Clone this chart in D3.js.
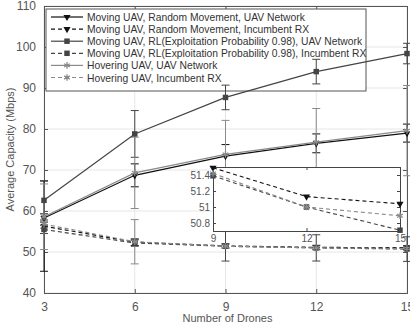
<!DOCTYPE html>
<html>
<head>
<meta charset="utf-8">
<script src="https://cdn.jsdelivr.net/npm/d3@7"></script>
<style>
  body { margin: 0; background: #fff; }
  text { font-family: "Liberation Sans", Arial, sans-serif; }
</style>
</head>
<body>
<div id="chart"></div>
<script>
// x values
var drones = [3, 6, 9, 12, 15];

// series values (Mbps)
var randUavNet = [58.3, 68.7, 73.4, 76.5, 79.0];
var randIncRx  = [56.3, 52.4, 51.49, 51.13, 51.04];
var rlUavNet   = [62.6, 78.8, 87.7, 94.0, 98.4];
var rlIncRx    = [55.5, 52.2, 51.39, 51.0, 50.71];
var hovUavNet  = [58.6, 69.3, 73.8, 76.8, 79.6];
var hovIncRx   = [56.8, 52.5, 51.42, 51.0, 50.89];

// error bar half widths
var randUavErr = [1, 2.8, 2.8, 2.3, 2.2];
var randIncErr = [11, 0.8, 0.5, 0.5, 0.5];
var rlUavErr   = [4.8, 5.7, 3, 3, 2.5];
var rlIncErr   = [1, 0.8, 3.6, 3.2, 3];
var hovUavErr  = [8, 8.7, 8.3, 8.2, 11];
var hovIncErr  = [1, 5.4, 0.5, 0.5, 0.5];

var seriesNames = [
  'Moving UAV, Random Movement, UAV Network',
  'Moving UAV, Random Movement, Incumbent RX',
  'Moving UAV, RL(Exploitation Probability 0.98), UAV Network',
  'Moving UAV, RL(Exploitation Probability 0.98), Incumbent RX',
  'Hovering UAV, UAV Network',
  'Hovering UAV, Incumbent RX'
];

var yTicks = [40, 50, 60, 70, 80, 90, 100, 110];
var insetYTicks = [50.8, 51, 51.2, 51.4];
var insetX = [9, 12, 15];

function bindChart() {
  var series = [
    {name: seriesNames[0], y: randUavNet, err: randUavErr, color: '#111', dash: null, mark: 'tri', inset: false},
    {name: seriesNames[1], y: randIncRx, err: randIncErr, color: '#111', dash: '4,3', mark: 'tri', inset: true},
    {name: seriesNames[2], y: rlUavNet, err: rlUavErr, color: '#444', dash: null, mark: 'sq', inset: false},
    {name: seriesNames[3], y: rlIncRx, err: rlIncErr, color: '#444', dash: '4,3', mark: 'sq', inset: true},
    {name: seriesNames[4], y: hovUavNet, err: hovUavErr, color: '#8a8a8a', dash: null, mark: 'star', inset: false},
    {name: seriesNames[5], y: hovIncRx, err: hovIncErr, color: '#8a8a8a', dash: '4,3', mark: 'star', inset: true}
  ];

  var width = 410, height = 326;
  var left = 44, right = 407, plotTop = 6, bottom = 293;
  var axisColor = '#555';

  var x = d3.scaleLinear().domain([3, 15]).range([left, right]);
  var y = d3.scaleLinear().domain([40, 110]).range([bottom, plotTop]);

  var svg = d3.select('#chart').append('svg')
    .attr('width', width)
    .attr('height', height);

  // grid
  svg.append('g').selectAll('line')
    .data(yTicks).enter().append('line')
    .attr('x1', left).attr('x2', right)
    .attr('y1', function (d) { return y(d); })
    .attr('y2', function (d) { return y(d); })
    .attr('stroke', '#e6e6e6');
  svg.append('g').selectAll('line')
    .data(drones).enter().append('line')
    .attr('y1', plotTop).attr('y2', bottom)
    .attr('x1', function (d) { return x(d); })
    .attr('x2', function (d) { return x(d); })
    .attr('stroke', '#e6e6e6');

  // axes, ticks pointing inward
  svg.append('g').attr('transform', 'translate(' + left + ',0)')
    .call(d3.axisLeft(y).tickValues(yTicks).tickSize(-4).tickPadding(8));
  svg.append('g').attr('transform', 'translate(0,' + bottom + ')')
    .call(d3.axisBottom(x).tickValues(drones).tickSize(-4).tickPadding(9));
  svg.append('g').attr('transform', 'translate(' + right + ',0)')
    .call(d3.axisRight(y).tickValues(yTicks).tickSize(-4).tickFormat(''));
  svg.append('g').attr('transform', 'translate(0,' + plotTop + ')')
    .call(d3.axisTop(x).tickValues(drones).tickSize(-4).tickFormat(''));

  svg.selectAll('.domain').attr('stroke', axisColor);
  svg.selectAll('.tick line').attr('stroke', axisColor);
  svg.selectAll('.tick text').attr('fill', axisColor).style('font-size', '12px');

  // axis titles
  svg.append('text')
    .attr('x', (left + right) / 2 + 2)
    .attr('y', 322)
    .attr('text-anchor', 'middle')
    .attr('fill', axisColor)
    .style('font-size', '11px')
    .text('Number of Drones');
  svg.append('text')
    .attr('transform', 'translate(14,' + ((plotTop + bottom) / 2) + ') rotate(-90)')
    .attr('text-anchor', 'middle')
    .attr('fill', axisColor)
    .style('font-size', '11px')
    .text('Average Capacity (Mbps)');

  function drawMarker(g, type, color, cx, cy) {
    if (type === 'tri') {
      g.append('path')
        .attr('d', d3.symbol().type(d3.symbolTriangle).size(22))
        .attr('transform', 'translate(' + cx + ',' + cy + ') rotate(180)')
        .attr('fill', color);
    } else if (type === 'sq') {
      g.append('path')
        .attr('d', d3.symbol().type(d3.symbolSquare).size(30))
        .attr('transform', 'translate(' + cx + ',' + cy + ')')
        .attr('fill', color);
    } else {
      g.append('path')
        .attr('d', d3.symbol().type(d3.symbolAsterisk).size(30))
        .attr('transform', 'translate(' + cx + ',' + cy + ')')
        .attr('fill', 'none')
        .attr('stroke', color)
        .attr('stroke-width', 1.3);
    }
  }

  // legend (drawn under the data, the curves show through it)
  var lg = svg.append('g');
  lg.append('rect')
    .attr('x', 46).attr('y', 9).attr('width', 320).attr('height', 82)
    .attr('fill', '#fff').attr('stroke', axisColor).attr('stroke-width', 1);
  series.forEach(function (s, i) {
    var ly = 17 + i * 12.1;
    lg.append('line')
      .attr('x1', 51).attr('x2', 83).attr('y1', ly).attr('y2', ly)
      .attr('stroke', s.color).attr('stroke-width', 1.2)
      .attr('stroke-dasharray', s.dash);
    drawMarker(lg, s.mark, s.color, 67, ly);
    lg.append('text')
      .attr('x', 87).attr('y', ly + 4)
      .attr('fill', '#333')
      .style('font-size', '10.3px')
      .text(s.name);
  });

  var line = d3.line()
    .x(function (d, i) { return x(drones[i]); })
    .y(function (d) { return y(d); });

  // error bars
  series.forEach(function (s) {
    var eb = svg.append('g');
    s.y.forEach(function (v, i) {
      var cx = x(drones[i]);
      var y0 = y(v - s.err[i]), y1 = y(v + s.err[i]);
      eb.append('line').attr('x1', cx).attr('x2', cx).attr('y1', y0).attr('y2', y1)
        .attr('stroke', s.color).attr('stroke-width', 1);
      [y0, y1].forEach(function (yy) {
        eb.append('line').attr('x1', cx - 4).attr('x2', cx + 4).attr('y1', yy).attr('y2', yy)
          .attr('stroke', s.color).attr('stroke-width', 1);
      });
    });
  });

  // lines + markers
  series.forEach(function (s) {
    svg.append('path')
      .datum(s.y)
      .attr('d', line)
      .attr('fill', 'none')
      .attr('stroke', s.color)
      .attr('stroke-width', 1.2)
      .attr('stroke-dasharray', s.dash);
    var mg = svg.append('g');
    s.y.forEach(function (v, i) {
      drawMarker(mg, s.mark, s.color, x(drones[i]), y(v));
    });
  });

  // inset
  var ix = d3.scaleLinear().domain([9, 15]).range([213, 400]);
  var iy = d3.scaleLinear().domain([50.7, 51.5]).range([231, 167]);
  var ig = svg.append('g');
  ig.append('rect')
    .attr('x', 213).attr('y', 167).attr('width', 187).attr('height', 64)
    .attr('fill', '#fff');
  ig.append('g').attr('transform', 'translate(213,0)')
    .call(d3.axisLeft(iy).tickValues(insetYTicks).tickSize(-3).tickPadding(3).tickFormat(d3.format('')));
  ig.append('g').attr('transform', 'translate(0,231)')
    .call(d3.axisBottom(ix).tickValues(insetX).tickSize(-3).tickPadding(4).tickFormat(d3.format('d')));
  ig.append('g').attr('transform', 'translate(400,0)')
    .call(d3.axisRight(iy).tickValues(insetYTicks).tickSize(-3).tickFormat(''));
  ig.append('g').attr('transform', 'translate(0,167)')
    .call(d3.axisTop(ix).tickValues(insetX).tickSize(-3).tickFormat(''));
  ig.selectAll('.domain').attr('stroke', '#444');
  ig.selectAll('.tick line').attr('stroke', '#444');
  ig.selectAll('.tick text').attr('fill', axisColor).style('font-size', '10px');

  var iline = d3.line()
    .x(function (d, i) { return ix(insetX[i]); })
    .y(function (d) { return iy(d); });

  series.filter(function (s) { return s.inset; }).forEach(function (s) {
    var vals = s.y.slice(2);
    ig.append('path')
      .datum(vals)
      .attr('d', iline)
      .attr('fill', 'none')
      .attr('stroke', s.color)
      .attr('stroke-width', 1.1)
      .attr('stroke-dasharray', s.dash);
    vals.forEach(function (v, i) {
      drawMarker(ig, s.mark, s.color, ix(insetX[i]), iy(v));
    });
  });
}

bindChart();
</script>
</body>
</html>
